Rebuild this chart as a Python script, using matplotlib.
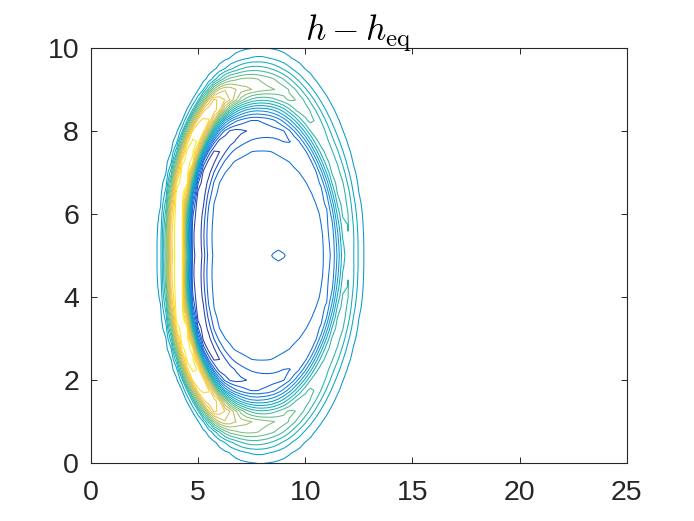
import numpy as np
import matplotlib
matplotlib.use("Agg")
import matplotlib.pyplot as plt
from matplotlib.colors import LinearSegmentedColormap

# MATLAB parula, sampled at 9 evenly spaced stops
PARULA = ["#352a87", "#0f5cdd", "#1481d6", "#06a4ca", "#2eb7a4",
          "#87bf77", "#d1bb59", "#fec832", "#f9fb0e"]

# domain / grid of the solver output
X_LIM = [0, 25]
Y_LIM = [0, 10]
DX = 0.25
X_TICKS = [0, 5, 10, 15, 20, 25]
Y_TICKS = [0, 2, 4, 6, 8, 10]

# ring disturbance (polar angle from +x, degrees)
CENTER = (7.95, 5.0)
ANGLES     = [0,     20,    40,    60,    75,    90,    105,   120,   140,   160,   180]
RIDGE_AMP  = [0.22,  0.28,  0.27,  0.35,  0.42,  0.49,  0.56,  0.82,  0.95,  0.99,  1.00]
RIDGE_RAD  = [4.05,  4.00,  3.95,  4.00,  4.05,  4.05,  4.10,  4.20,  4.15,  4.02,  3.85]
RIDGE_FLAT = [0.00,  0.00,  0.00,  0.00,  0.00,  0.00,  0.05,  0.10,  0.15,  0.15,  0.15]
RIDGE_WIN  = [0.40,  0.40,  0.40,  0.40,  0.40,  0.38,  0.35,  0.30,  0.26,  0.24,  0.24]
EDGE_RAD   = [4.78,  4.80,  4.86,  4.92,  4.96,  5.01,  4.98,  4.96,  4.92,  4.86,  4.81]
TROUGH_AMP = [-0.19, -0.19, -0.21, -0.24, -0.27, -0.29, -0.32, -0.37, -0.43, -0.46, -0.47]
TROUGH_RAD = [3.20,  3.20,  3.15,  3.10,  3.10,  3.10,  3.15,  3.25,  3.30,  3.15,  3.00]
CORE_VALUE = -0.15
DIP_POS = (8.75, 5.0)
DIP_AMP = -0.05

# contour levels (20 levels between data min and max)
H_MIN, H_MAX = -0.45, 1.0
N_LEVELS = 20


def field(X, Y, levels):
    dx, dy = X - CENTER[0], Y - CENTER[1]
    d = np.hypot(dx, dy)
    th = np.degrees(np.arctan2(np.abs(dy), dx))
    A = np.interp(th, ANGLES, RIDGE_AMP)
    Rr = np.interp(th, ANGLES, RIDGE_RAD)
    fl = np.interp(th, ANGLES, RIDGE_FLAT)
    w_in = np.interp(th, ANGLES, RIDGE_WIN)
    Re = np.interp(th, ANGLES, EDGE_RAD)
    T = np.interp(th, ANGLES, TROUGH_AMP)
    Rt = np.interp(th, ANGLES, TROUGH_RAD)

    # outer flank width chosen so the lowest level sits on the edge radius
    lev0 = levels[levels > 0][0]
    w_out = (Re - Rr - fl) / np.sqrt(np.log(A / lev0))
    s = np.maximum(np.abs(d - Rr) - fl, 0)
    w = np.where(d < Rr, w_in, w_out)
    ridge = A * np.exp(-(s / w) ** 2)

    inner = CORE_VALUE + (T - CORE_VALUE) * np.exp(-((d - Rt) / 0.43) ** 2)
    outer = T * np.exp(-((d - Rt) / 0.35) ** 2)
    trough = np.where(d < Rt, inner, outer)

    dip = DIP_AMP * np.exp(-((X - DIP_POS[0]) / 0.35) ** 2 - ((Y - DIP_POS[1]) / 0.12) ** 2)
    return ridge + trough + dip


def main():
    levels = np.linspace(H_MIN, H_MAX, N_LEVELS + 2)[1:-1]

    x = np.arange(X_LIM[0], X_LIM[1] + DX / 2, DX)
    y = np.arange(Y_LIM[0], Y_LIM[1] + DX / 2, DX)
    X, Y = np.meshgrid(x, y)
    H = field(X, Y, levels)

    plt.rcParams["font.family"] = ["Liberation Sans", "DejaVu Sans"]
    plt.rcParams["mathtext.fontset"] = "cm"
    cmap = LinearSegmentedColormap.from_list("parula", PARULA)

    fig = plt.figure(figsize=(6.94, 5.21), dpi=100)
    ax = fig.add_axes([0.131, 0.111, 0.772, 0.797])
    ax.contour(X, Y, H, levels=levels, cmap=cmap, vmin=H_MIN, vmax=H_MAX,
               linewidths=0.75)

    ax.set_xlim(X_LIM)
    ax.set_ylim(Y_LIM)
    ax.set_xticks(X_TICKS)
    ax.set_yticks(Y_TICKS)
    ax.tick_params(direction="in", top=True, right=True, length=4, width=0.7,
                   labelsize=20.5, colors="#262626")
    ax.tick_params(axis="x", pad=12)
    ax.tick_params(axis="y", pad=8.5)
    for s in ax.spines.values():
        s.set_color("#262626")
        s.set_linewidth(0.8)

    ax.set_title(r"$h - h_{\mathrm{eq}}$", fontsize=25.5, pad=5)

    fig.savefig("out.png", dpi=100)


if __name__ == "__main__":
    main()
